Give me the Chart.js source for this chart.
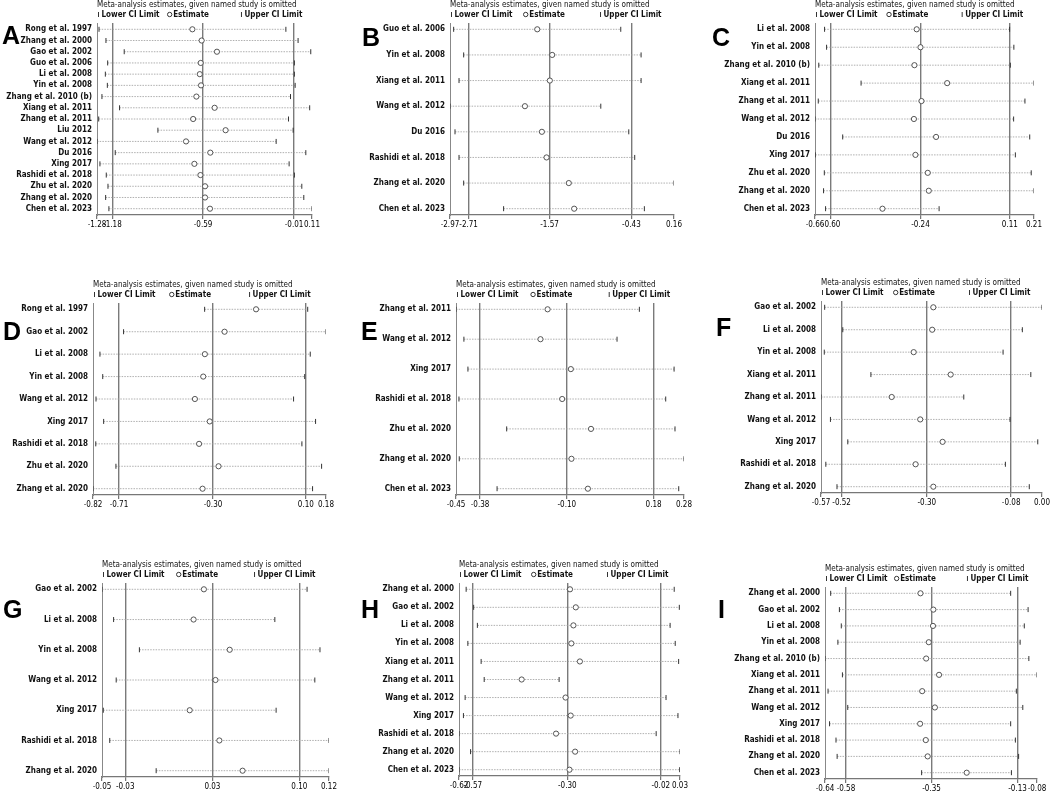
<!DOCTYPE html>
<html>
<head>
<meta charset="utf-8">
<script src="https://cdn.jsdelivr.net/npm/chart.js@4.4.1/dist/chart.umd.min.js"></script>
<style>
html, body { margin: 0; padding: 0; background: #fff; }
body { width: 1052px; height: 792px; position: relative; overflow: hidden; }
.panel { position: absolute; }
.letter { position: absolute; font: bold 25px "Liberation Sans", Arial, sans-serif; line-height: 1; color: #000; }
</style>
</head>
<body>
<script>
// ---- data (leave-one-out estimates, lower/upper CI) ----
const studiesA = ["Rong et al. 1997", "Zhang et al. 2000", "Gao et al. 2002", "Guo et al. 2006", "Li et al. 2008", "Yin et al. 2008", "Zhang et al. 2010 (b)", "Xiang et al. 2011", "Zhang et al. 2011", "Liu 2012", "Wang et al. 2012", "Du 2016", "Xing 2017", "Rashidi et al. 2018", "Zhu et al. 2020", "Zhang et al. 2020", "Chen et al. 2023"];
const lowerA = [-1.267, -1.222, -1.104, -1.211, -1.226, -1.213, -1.248, -1.134, -1.269, -0.886, -1.280, -1.162, -1.261, -1.220, -1.209, -1.224, -1.203];
const estA = [-0.663, -0.603, -0.504, -0.609, -0.615, -0.607, -0.637, -0.519, -0.658, -0.448, -0.704, -0.547, -0.650, -0.611, -0.581, -0.581, -0.549];
const upperA = [-0.058, 0.021, 0.103, -0.003, -0.003, 0.002, -0.028, 0.096, -0.041, -0.011, -0.121, 0.071, -0.037, -0.003, 0.045, 0.058, 0.111];
const ticksA = [-1.28, -1.18, -0.594, -0.005, 0.111];
const tickLabelsA = ["-1.28", "-1.18", "-0.59", "-0.01", "0.11"];

const studiesB = ["Guo et al. 2006", "Yin et al. 2008", "Xiang et al. 2011", "Wang et al. 2012", "Du 2016", "Rashidi et al. 2018", "Zhang et al. 2020", "Chen et al. 2023"];
const lowerB = [-2.919, -2.779, -2.844, -2.970, -2.900, -2.844, -2.779, -2.221];
const estB = [-1.751, -1.542, -1.575, -1.923, -1.686, -1.621, -1.310, -1.235];
const upperB = [-0.584, -0.300, -0.300, -0.863, -0.472, -0.389, 0.160, -0.254];
const ticksB = [-2.97, -2.71, -1.579, -0.435, 0.16];
const tickLabelsB = ["-2.97", "-2.71", "-1.57", "-0.43", "0.16"];

const studiesC = ["Li et al. 2008", "Yin et al. 2008", "Zhang et al. 2010 (b)", "Xiang et al. 2011", "Zhang et al. 2011", "Wang et al. 2012", "Du 2016", "Xing 2017", "Zhu et al. 2020", "Zhang et al. 2020", "Chen et al. 2023"];
const lowerC = [-0.622, -0.614, -0.645, -0.477, -0.647, -0.660, -0.550, -0.659, -0.623, -0.626, -0.618];
const estC = [-0.256, -0.241, -0.265, -0.135, -0.237, -0.267, -0.179, -0.261, -0.212, -0.208, -0.392];
const upperC = [0.113, 0.130, 0.116, 0.210, 0.174, 0.129, 0.193, 0.136, 0.199, 0.210, -0.167];
const ticksC = [-0.66, -0.596, -0.241, 0.114, 0.21];
const tickLabelsC = ["-0.66", "-0.60", "-0.24", "0.11", "0.21"];

const studiesD = ["Rong et al. 1997", "Gao et al. 2002", "Li et al. 2008", "Yin et al. 2008", "Wang et al. 2012", "Xing 2017", "Rashidi et al. 2018", "Zhu et al. 2020", "Zhang et al. 2020"];
const lowerD = [-0.340, -0.690, -0.792, -0.780, -0.809, -0.776, -0.810, -0.723, -0.822];
const estD = [-0.118, -0.254, -0.339, -0.346, -0.382, -0.318, -0.364, -0.280, -0.349];
const upperD = [0.105, 0.184, 0.116, 0.092, 0.044, 0.139, 0.080, 0.165, 0.126];
const ticksD = [-0.822, -0.710, -0.304, 0.097, 0.184];
const tickLabelsD = ["-0.82", "-0.71", "-0.30", "0.10", "0.18"];

const studiesE = ["Zhang et al. 2011", "Wang et al. 2012", "Xing 2017", "Rashidi et al. 2018", "Zhu et al. 2020", "Zhang et al. 2020", "Chen et al. 2023"];
const lowerE = [-0.4545, -0.429, -0.416, -0.445, -0.291, -0.444, -0.322];
const estE = [-0.159, -0.182, -0.084, -0.112, -0.019, -0.082, -0.029];
const upperE = [0.137, 0.065, 0.249, 0.222, 0.252, 0.281, 0.264];
const ticksE = [-0.4545, -0.377, -0.097, 0.183, 0.281];
const tickLabelsE = ["-0.45", "-0.38", "-0.10", "0.18", "0.28"];

const studiesF = ["Gao et al. 2002", "Li et al. 2008", "Yin et al. 2008", "Xiang et al. 2011", "Zhang et al. 2011", "Wang et al. 2012", "Xing 2017", "Rashidi et al. 2018", "Zhang et al. 2020"];
const lowerF = [-0.564, -0.517, -0.565, -0.444, -0.5735, -0.549, -0.504, -0.561, -0.532];
const estF = [-0.282, -0.285, -0.333, -0.237, -0.390, -0.316, -0.258, -0.328, -0.282];
const upperF = [0.000, -0.051, -0.101, -0.029, -0.203, -0.083, -0.011, -0.095, -0.033];
const ticksF = [-0.5735, -0.520, -0.299, -0.080, 0.000];
const tickLabelsF = ["-0.57", "-0.52", "-0.30", "-0.08", "0.00"];

const studiesG = ["Gao et al. 2002", "Li et al. 2008", "Yin et al. 2008", "Wang et al. 2012", "Xing 2017", "Rashidi et al. 2018", "Zhang et al. 2020"];
const lowerG = [-0.052, -0.043, -0.023, -0.041, -0.051, -0.046, -0.010];
const estG = [0.027, 0.019, 0.047, 0.036, 0.016, 0.039, 0.057];
const upperG = [0.107, 0.082, 0.117, 0.113, 0.083, 0.124, 0.124];
const ticksG = [-0.052, -0.034, 0.0336, 0.101, 0.124];
const tickLabelsG = ["-0.05", "-0.03", "0.03", "0.10", "0.12"];

const studiesH = ["Zhang et al. 2000", "Gao et al. 2002", "Li et al. 2008", "Yin et al. 2008", "Xiang et al. 2011", "Zhang et al. 2011", "Wang et al. 2012", "Xing 2017", "Rashidi et al. 2018", "Zhang et al. 2020", "Chen et al. 2023"];
const lowerH = [-0.594, -0.572, -0.561, -0.589, -0.550, -0.541, -0.597, -0.602, -0.615, -0.581, -0.615];
const estH = [-0.289, -0.272, -0.279, -0.285, -0.260, -0.431, -0.302, -0.287, -0.330, -0.274, -0.2905];
const upperH = [0.017, 0.032, 0.005, 0.020, 0.030, -0.321, -0.007, 0.028, -0.036, 0.034, 0.033];
const ticksH = [-0.615, -0.5747, -0.297, -0.0226, 0.034];
const tickLabelsH = ["-0.62", "-0.57", "-0.30", "-0.02", "0.03"];

const studiesI = ["Zhang et al. 2000", "Gao et al. 2002", "Li et al. 2008", "Yin et al. 2008", "Zhang et al. 2010 (b)", "Xiang et al. 2011", "Zhang et al. 2011", "Wang et al. 2012", "Xing 2017", "Rashidi et al. 2018", "Zhang et al. 2020", "Chen et al. 2023"];
const lowerI = [-0.620, -0.597, -0.592, -0.601, -0.635, -0.589, -0.627, -0.575, -0.623, -0.606, -0.603, -0.380];
const estI = [-0.383, -0.349, -0.350, -0.361, -0.368, -0.334, -0.3785, -0.345, -0.384, -0.369, -0.364, -0.261];
const upperI = [-0.145, -0.099, -0.109, -0.120, -0.097, -0.0755, -0.130, -0.113, -0.145, -0.1325, -0.124, -0.143];
const ticksI = [-0.635, -0.5797, -0.3538, -0.127, -0.0755];
const tickLabelsI = ["-0.64", "-0.58", "-0.35", "-0.13", "-0.08"];

// ---- layout: plot rectangle [left, top, right, bottom] and letter position ----
const panels = [
    { letter: "A", studies: studiesA, lower: lowerA, est: estA, upper: upperA, ticks: ticksA, tickLabels: tickLabelsA, box: [97, 23, 312, 215], at: [2, 23] },
    { letter: "B", studies: studiesB, lower: lowerB, est: estB, upper: upperB, ticks: ticksB, tickLabels: tickLabelsB, box: [450, 23, 674, 215], at: [362, 25] },
    { letter: "C", studies: studiesC, lower: lowerC, est: estC, upper: upperC, ticks: ticksC, tickLabels: tickLabelsC, box: [815, 23, 1034, 215], at: [712, 25] },
    { letter: "D", studies: studiesD, lower: lowerD, est: estD, upper: upperD, ticks: ticksD, tickLabels: tickLabelsD, box: [93, 303, 326, 495], at: [3, 319] },
    { letter: "E", studies: studiesE, lower: lowerE, est: estE, upper: upperE, ticks: ticksE, tickLabels: tickLabelsE, box: [456, 303, 684, 495], at: [361, 319] },
    { letter: "F", studies: studiesF, lower: lowerF, est: estF, upper: upperF, ticks: ticksF, tickLabels: tickLabelsF, box: [821, 301, 1042, 493], at: [716, 315] },
    { letter: "G", studies: studiesG, lower: lowerG, est: estG, upper: upperG, ticks: ticksG, tickLabels: tickLabelsG, box: [102, 583, 329, 777], at: [3, 597] },
    { letter: "H", studies: studiesH, lower: lowerH, est: estH, upper: upperH, ticks: ticksH, tickLabels: tickLabelsH, box: [459, 583, 680, 776], at: [361, 597] },
    { letter: "I", studies: studiesI, lower: lowerI, est: estI, upper: upperI, ticks: ticksI, tickLabels: tickLabelsI, box: [825, 587, 1037, 779], at: [718, 597] }
];

const NARROW = '"Liberation Sans Narrow", "DejaVu Sans Condensed", "Liberation Sans", sans-serif';
const LABEL_W = 100, TOP_PAD = 28, X_H = 22, RIGHT_PAD = 20, ROW_PAD = 6.3;

// title line + legend line above each plot
const headerPlugin = {
    id: "header",
    afterDraw(chart) {
        const { ctx, chartArea: a } = chart;
        const w = a.right - a.left;
        const y = a.top - 8.5;
        ctx.save();
        ctx.fillStyle = "#111";
        ctx.textAlign = "left";
        ctx.textBaseline = "middle";
        ctx.font = "8px " + NARROW;
        ctx.fillText("Meta-analysis estimates, given named study is omitted", a.left, a.top - 18);

        ctx.font = "bold 8px " + NARROW;
        ctx.strokeStyle = "#333";
        ctx.lineWidth = 1;
        const xl = a.left + 1.5, xe = a.left + w * 0.338, xu = a.left + w * 0.672;
        ctx.beginPath();
        ctx.moveTo(xl, y - 2.5); ctx.lineTo(xl, y + 2.5);
        ctx.moveTo(xu, y - 2.5); ctx.lineTo(xu, y + 2.5);
        ctx.stroke();
        ctx.fillText("Lower CI Limit", xl + 3, y);
        ctx.beginPath();
        ctx.arc(xe, y, 2.2, 0, Math.PI * 2);
        ctx.stroke();
        ctx.fillText("Estimate", xe + 3.5, y);
        ctx.fillText("Upper CI Limit", xu + 3, y);
        ctx.restore();
    }
};

function buildPanel(p) {
    const [l, t, r, b] = p.box;
    const div = document.createElement("div");
    div.className = "panel";
    div.style.left = (l - LABEL_W) + "px";
    div.style.top = (t - TOP_PAD) + "px";
    div.style.width = (r - l + LABEL_W + RIGHT_PAD) + "px";
    div.style.height = (b - t + TOP_PAD + X_H) + "px";
    const canvas = document.createElement("canvas");
    div.appendChild(canvas);
    document.body.appendChild(div);

    const letter = document.createElement("div");
    letter.className = "letter";
    letter.textContent = p.letter;
    letter.style.left = p.at[0] + "px";
    letter.style.top = p.at[1] + "px";
    document.body.appendChild(letter);

    const n = p.studies.length;
    const m = ROW_PAD * (n - 1) / ((b - t) - 2 * ROW_PAD);

    const ciPoints = [];
    p.studies.forEach((s, i) => {
        ciPoints.push({ x: p.lower[i], y: i }, { x: p.upper[i], y: i }, { x: null, y: null });
    });

    new Chart(canvas, {
        type: "scatter",
        data: {
            datasets: [
                {
                    label: "Estimate",
                    data: p.est.map((x, i) => ({ x, y: i })),
                    pointStyle: "circle",
                    pointRadius: 2.6,
                    pointBorderWidth: 0.9,
                    borderColor: "#444",
                    backgroundColor: "#fff",
                    order: 0
                },
                {
                    label: "CI",
                    data: ciPoints,
                    showLine: true,
                    spanGaps: false,
                    borderColor: "#9c9c9c",
                    borderWidth: 0.8,
                    borderDash: [1.5, 1.2],
                    pointStyle: "line",
                    rotation: 90,
                    pointRadius: 2.5,
                    pointBorderColor: "#333",
                    pointBorderWidth: 1,
                    order: 1
                }
            ]
        },
        options: {
            responsive: true,
            maintainAspectRatio: false,
            animation: false,
            events: [],
            layout: { padding: { top: TOP_PAD, right: RIGHT_PAD, left: 0, bottom: 0 } },
            plugins: { legend: { display: false }, tooltip: { enabled: false } },
            scales: {
                x: {
                    type: "linear",
                    min: p.ticks[0],
                    max: p.ticks[p.ticks.length - 1],
                    afterBuildTicks: (s) => { s.ticks = p.ticks.map((v) => ({ value: v })); },
                    afterFit: (s) => { s.height = X_H; },
                    ticks: {
                        autoSkip: false,
                        maxRotation: 0,
                        padding: 1,
                        color: "#000",
                        font: { family: NARROW, size: 8 },
                        callback: (v, i) => p.tickLabels[i]
                    },
                    grid: {
                        color: (c) => (c.index > 0 && c.index < 4) ? "#7a7a7a" : "rgba(0,0,0,0)",
                        lineWidth: 1.4,
                        tickLength: 4,
                        tickColor: "#555",
                        tickWidth: 1
                    },
                    border: { display: true, color: "#777", width: 1.2 }
                },
                y: {
                    type: "linear",
                    reverse: true,
                    min: -m,
                    max: n - 1 + m,
                    afterBuildTicks: (s) => { s.ticks = p.studies.map((_, i) => ({ value: i })); },
                    afterFit: (s) => { s.width = LABEL_W; },
                    ticks: {
                        autoSkip: false,
                        padding: 5,
                        color: "#111",
                        font: { family: NARROW, size: 8, weight: "bold" },
                        callback: (v) => p.studies[v]
                    },
                    grid: { display: false, drawTicks: false },
                    border: { display: true, color: "#888", width: 1 }
                }
            }
        },
        plugins: [headerPlugin]
    });
}

panels.forEach(buildPanel);
</script>
</body>
</html>
